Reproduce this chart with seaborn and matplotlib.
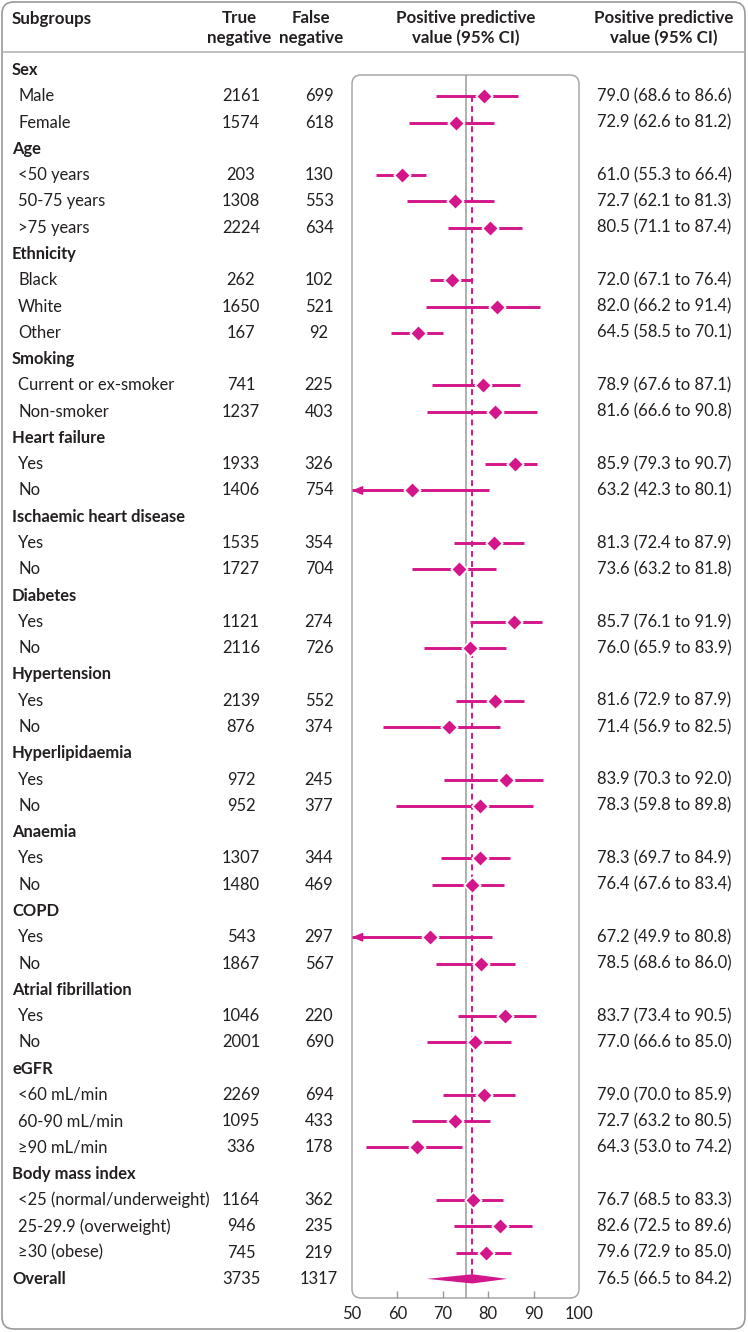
import numpy as np
import pandas as pd
import matplotlib
matplotlib.use("Agg")
import matplotlib.pyplot as plt
import matplotlib.transforms as mtransforms
from matplotlib.patches import FancyBboxPatch, Polygon
from matplotlib.lines import Line2D
import seaborn as sns

# ---------------- data ----------------
groups = ["Sex", "Age", "Ethnicity", "Smoking", "Heart failure",
          "Ischaemic heart disease", "Diabetes", "Hypertension",
          "Hyperlipidaemia", "Anaemia", "COPD", "Atrial fibrillation",
          "eGFR", "Body mass index"]
group_sizes = [2, 3, 3, 2, 2, 2, 2, 2, 2, 2, 2, 2, 3, 3]
subgroups = ["Male", "Female",
             "<50 years", "50-75 years", ">75 years",
             "Black", "White", "Other",
             "Current or ex-smoker", "Non-smoker",
             "Yes", "No", "Yes", "No", "Yes", "No", "Yes", "No",
             "Yes", "No", "Yes", "No", "Yes", "No", "Yes", "No",
             "<60 mL/min", "60-90 mL/min", "\u226590 mL/min",
             "<25 (normal/underweight)", "25-29.9 (overweight)", "\u226530 (obese)"]
true_negative = [2161, 1574, 203, 1308, 2224, 262, 1650, 167, 741, 1237,
                 1933, 1406, 1535, 1727, 1121, 2116, 2139, 876, 972, 952,
                 1307, 1480, 543, 1867, 1046, 2001, 2269, 1095, 336,
                 1164, 946, 745]
false_negative = [699, 618, 130, 553, 634, 102, 521, 92, 225, 403,
                  326, 754, 354, 704, 274, 726, 552, 374, 245, 377,
                  344, 469, 297, 567, 220, 690, 694, 433, 178,
                  362, 235, 219]
ppv = [79.0, 72.9, 61.0, 72.7, 80.5, 72.0, 82.0, 64.5, 78.9, 81.6,
       85.9, 63.2, 81.3, 73.6, 85.7, 76.0, 81.6, 71.4, 83.9, 78.3,
       78.3, 76.4, 67.2, 78.5, 83.7, 77.0, 79.0, 72.7, 64.3,
       76.7, 82.6, 79.6]
ci_low = [68.6, 62.6, 55.3, 62.1, 71.1, 67.1, 66.2, 58.5, 67.6, 66.6,
          79.3, 42.3, 72.4, 63.2, 76.1, 65.9, 72.9, 56.9, 70.3, 59.8,
          69.7, 67.6, 49.9, 68.6, 73.4, 66.6, 70.0, 63.2, 53.0,
          68.5, 72.5, 72.9]
ci_high = [86.6, 81.2, 66.4, 81.3, 87.4, 76.4, 91.4, 70.1, 87.1, 90.8,
           90.7, 80.1, 87.9, 81.8, 91.9, 83.9, 87.9, 82.5, 92.0, 89.8,
           84.9, 83.4, 80.8, 86.0, 90.5, 85.0, 85.9, 80.5, 74.2,
           83.3, 89.6, 85.0]
overall = {"label": "Overall", "tn": 3735, "fn": 1317,
           "ppv": 76.5, "lo": 66.5, "hi": 84.2}
reference_value = 75
x_ticks = [50, 60, 70, 80, 90, 100]

# ---------------- layout rows ----------------
rows = []  # (row_pos, kind, index)
pos = 1
k = 0
for g, n in zip(groups, group_sizes):
    rows.append((pos, "group", g))
    pos += 1
    for _ in range(n):
        rows.append((pos, "item", k))
        k += 1
        pos += 1
overall_pos = pos

item_pos = [r[0] for r in rows if r[1] == "item"]
df = pd.DataFrame({"label": subgroups, "tn": true_negative, "fn": false_negative,
                   "ppv": ppv, "lo": ci_low, "hi": ci_high, "y": item_pos})

# ---------------- style ----------------
sns.set_theme(style="white")
plt.rcParams["font.family"] = ["Lato", "DejaVu Sans"]
TXT = "#231f20"
MAG = "#d4168b"
GRID = "#9a9a9a"
FS = 11.9
HFS = 12.2

W, H = 748, 1332
fig = plt.figure(figsize=(W / 100, H / 100), dpi=100)

# pixel geometry (top-origin)
px_left, px_right = 352, 579
px_top, px_bot = 75, 1298
row0_px, row_step = 70, 26.28

ax = fig.add_axes([px_left / W, 1 - px_bot / H, (px_right - px_left) / W, (px_bot - px_top) / H])
ax.set_xlim(50, 100)
ylim_top = 1 + (px_top - row0_px) / row_step
ylim_bot = 1 + (px_bot - row0_px) / row_step
ax.set_ylim(ylim_bot, ylim_top)
for s in ax.spines.values():
    s.set_visible(False)
ax.set_yticks([])
ax.set_xticks(x_ticks)
ax.set_xticklabels([str(t) for t in x_ticks], fontsize=FS, color=TXT)
ax.tick_params(axis="x", direction="in", length=5, width=1, color=GRID, pad=6, bottom=True)
ticks = ax.xaxis.get_major_ticks()
ticks[0].tick1line.set_visible(False)
ticks[-1].tick1line.set_visible(False)
ax.set_facecolor("none")

# panel rounded box
ident = mtransforms.IdentityTransform()
panel = FancyBboxPatch((px_left, H - px_bot), px_right - px_left, px_bot - px_top,
                       boxstyle="round,pad=0,rounding_size=9", transform=ident,
                       fill=False, edgecolor="#a8a8a8", lw=1.1, zorder=0)
fig.add_artist(panel)

# reference line & overall dashed
ax.axvline(reference_value, color=GRID, lw=1.1, zorder=1)
ax.vlines(overall["ppv"], df["y"].min(), overall_pos, colors=MAG, lw=1.4,
          linestyles=(0, (3, 2.2)), zorder=1)

# CIs
for _, r in df.iterrows():
    lo = max(r["lo"], 50)
    ax.hlines(r["y"], lo, r["hi"], color=MAG, lw=2.1, zorder=2)
    if r["lo"] < 50:
        ax.annotate("", xy=(50, r["y"]), xytext=(53, r["y"]),
                    arrowprops=dict(arrowstyle="-|>,head_length=0.75,head_width=0.32",
                                    mutation_scale=8, color=MAG, lw=1.2,
                                    shrinkA=0, shrinkB=0),
                    annotation_clip=False, zorder=3)

sns.scatterplot(data=df, x="ppv", y="y", marker="D", s=70, color=MAG,
                edgecolor="white", linewidth=1.3, ax=ax, zorder=4, legend=False)
ax.set_xlabel("")
ax.set_ylabel("")

# overall diamond
hh = 4.6 / row_step
ax.add_patch(Polygon([(overall["lo"], overall_pos), (overall["ppv"], overall_pos - hh),
                      (overall["hi"], overall_pos), (overall["ppv"], overall_pos + hh)],
                     closed=True, color=MAG, zorder=4, lw=0))

# ---------------- table text ----------------
tr = mtransforms.blended_transform_factory(fig.transFigure, ax.transData)
x_grp, x_item, x_tn, x_fn, x_ci = 12 / W, 18 / W, 241 / W, 319 / W, 664 / W

for (p, kind, ref) in rows:
    if kind == "group":
        fig.text(x_grp, p, ref, transform=tr, ha="left", va="center", fontsize=FS,
                 fontweight="bold", color=TXT)
    else:
        r = df.iloc[ref]
        fig.text(x_item, p, r["label"], transform=tr, ha="left", va="center", fontsize=FS, color=TXT)
        fig.text(x_tn, p, f"{r['tn']}", transform=tr, ha="center", va="center", fontsize=FS, color=TXT)
        fig.text(x_fn, p, f"{r['fn']}", transform=tr, ha="center", va="center", fontsize=FS, color=TXT)
        fig.text(x_ci, p, f"{r['ppv']:.1f} ({r['lo']:.1f} to {r['hi']:.1f})", transform=tr,
                 ha="center", va="center", fontsize=FS, color=TXT)

p = overall_pos
fig.text(x_grp, p, overall["label"], transform=tr, ha="left", va="center", fontsize=FS,
         fontweight="bold", color=TXT)
fig.text(x_tn, p, f"{overall['tn']}", transform=tr, ha="center", va="center", fontsize=FS, color=TXT)
fig.text(x_fn, p, f"{overall['fn']}", transform=tr, ha="center", va="center", fontsize=FS, color=TXT)
fig.text(x_ci, p, f"{overall['ppv']:.1f} ({overall['lo']:.1f} to {overall['hi']:.1f})",
         transform=tr, ha="center", va="center", fontsize=FS, color=TXT)

# headers
hy = 1 - 28 / H
hdr = dict(va="center", fontsize=HFS, fontweight="bold", color=TXT, linespacing=1.25)
fig.text(12 / W, 1 - 19 / H, "Subgroups", ha="left", **hdr)
fig.text(239 / W, hy, "True\nnegative", ha="center", multialignment="center", **hdr)
fig.text(311 / W, hy, "False\nnegative", ha="center", multialignment="center", **hdr)
fig.text(466 / W, hy, "Positive predictive\nvalue (95% CI)", ha="center", multialignment="center", **hdr)
fig.text(664 / W, hy, "Positive predictive\nvalue (95% CI)", ha="center", multialignment="center", **hdr)

# outer box and header rule
outer = FancyBboxPatch((2, 3), W - 5, H - 5, boxstyle="round,pad=0,rounding_size=12",
                       transform=ident, fill=False, edgecolor="#9a9a9a", lw=1.2, zorder=0)
fig.add_artist(outer)
fig.add_artist(Line2D([2, W - 3], [H - 52, H - 52], transform=ident, color="#b0b0b0", lw=1.1))

fig.savefig("out.png", dpi=100, facecolor="white")
